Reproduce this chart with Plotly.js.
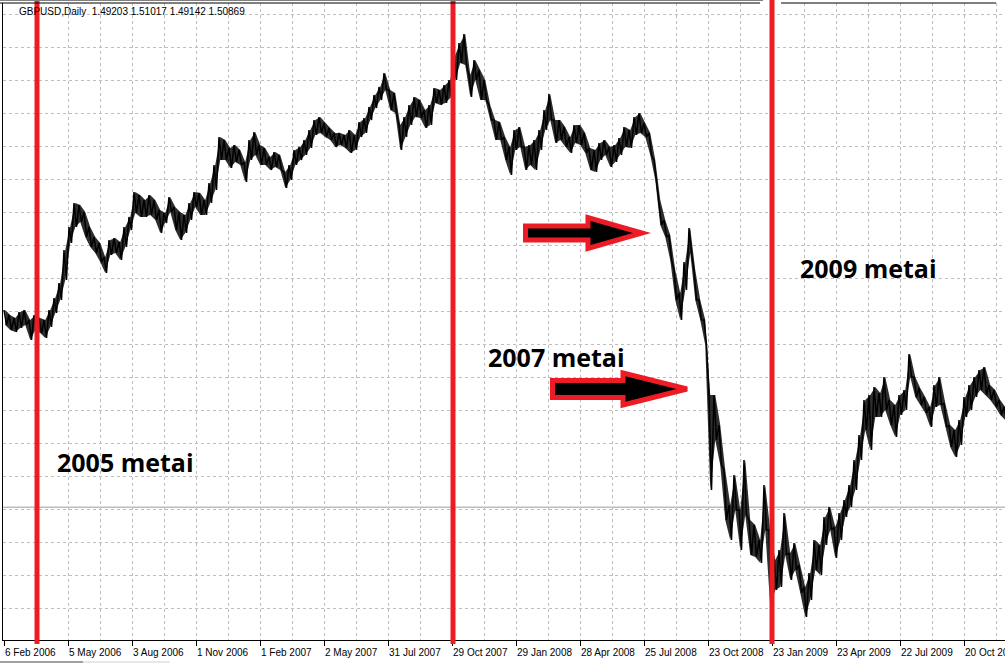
<!DOCTYPE html>
<html>
<head>
<meta charset="utf-8">
<script src="https://cdn.plot.ly/plotly-3.0.1.min.js"></script>
<style>
html,body{margin:0;padding:0;background:#fff;}
#chart{width:1005px;height:665px;}
</style>
</head>
<body>
<div id="chart"></div>
<script>
// GBPUSD daily: sampled highs / lows, one sample every 5 trading days
const sampleStep = 5;
const hi = [
1.765,1.7585,1.7546,1.7624,1.765,1.752,1.7585,1.7546,1.752,1.765,
1.7806,1.8001,1.843,1.8729,1.9041,1.9015,1.8924,1.8729,1.8599,1.8521,
1.8339,1.856,1.8586,1.8534,1.8729,1.8859,1.9184,1.9145,1.908,1.9145,
1.908,1.895,1.8911,1.9119,1.8989,1.8924,1.8885,1.9041,1.9184,1.9171,
1.908,1.9301,1.9535,1.9899,1.986,1.9756,1.9795,1.973,1.9574,1.986,
1.9964,1.9795,1.9756,1.9639,1.9704,1.9665,1.9444,1.9535,1.973,1.9769,
1.986,1.999,2.012,2.0159,2.0081,2.0016,1.9951,1.9951,1.9925,1.999,
1.9925,2.0094,2.0146,2.0289,2.0445,2.0549,2.0731,2.051,2.0471,2.0055,
2.0159,2.0315,2.0419,2.038,2.025,2.0315,2.0536,2.051,2.0575,2.064,
2.0965,2.1121,2.1238,2.0705,2.090,2.077,2.064,2.0315,2.012,2.0094,
1.9899,1.9769,1.999,2.0029,1.9769,1.9795,1.986,1.999,2.025,2.0458,
2.012,2.012,2.0029,1.9899,2.0055,2.0055,1.9951,1.9756,1.973,1.9821,
1.986,1.9769,1.9795,1.9886,2.0029,1.999,2.0159,2.0211,2.0081,1.9951,
1.960,1.908,1.882,1.8625,1.817,1.7871,1.8274,1.8716,1.817,1.778,
1.752,1.6545,1.6545,1.6155,1.557,1.5115,1.5505,1.505,1.570,1.492,
1.4855,1.466,1.5375,1.479,1.440,1.453,1.5011,1.4491,1.4621,1.4335,
1.4049,1.4231,1.466,1.4595,1.4959,1.5089,1.4829,1.5011,1.518,1.5375,
1.570,1.6025,1.648,1.6545,1.6649,1.6571,1.6779,1.648,1.6415,1.6545,
1.661,1.7078,1.6779,1.6636,1.6519,1.6389,1.6675,1.6779,1.6441,1.6155,
1.609,1.622,1.6519,1.6675,1.6779,1.687,1.6909,1.6675,1.661,1.648,
1.6389
];
const lo = [
1.7455,1.739,1.7364,1.7416,1.7455,1.726,1.739,1.7351,1.7286,1.7429,
1.7611,1.778,1.804,1.8521,1.8729,1.8794,1.8599,1.8469,1.8391,1.8274,
1.8131,1.8365,1.8391,1.830,1.8469,1.869,1.8911,1.8859,1.8859,1.8885,
1.882,1.8651,1.8781,1.8924,1.869,1.856,1.8651,1.882,1.8989,1.8885,
1.8885,1.9041,1.921,1.960,1.960,1.9496,1.9574,1.9535,1.9314,1.960,
1.9665,1.9535,1.9535,1.947,1.9509,1.947,1.9236,1.934,1.9535,1.960,
1.9665,1.9756,1.9925,1.9951,1.9899,1.986,1.9769,1.9795,1.9756,1.9691,
1.973,1.9899,1.9951,2.012,2.0276,2.038,2.051,2.025,2.0211,1.973,
1.9899,2.0055,2.0159,2.0146,2.0016,2.0055,2.0341,2.0315,2.0341,2.0406,
2.064,2.0861,2.0835,2.0419,2.064,2.038,2.038,2.012,1.986,1.986,
1.960,1.9405,1.973,1.9769,1.947,1.9535,1.947,1.973,1.999,2.012,
1.9821,1.986,1.9769,1.9691,1.9821,1.9795,1.9691,1.947,1.9444,1.960,
1.9665,1.9509,1.9574,1.9665,1.9769,1.9756,1.9925,1.9951,1.9899,1.9665,
1.934,1.8755,1.8599,1.830,1.778,1.752,1.791,1.8391,1.778,1.752,
1.7195,1.531,1.596,1.5635,1.492,1.466,1.505,1.453,1.4985,1.4465,
1.4439,1.4361,1.479,1.3789,1.401,1.4049,1.4465,1.414,1.427,1.3971,
1.3659,1.388,1.427,1.4205,1.4595,1.479,1.4426,1.466,1.4959,1.5089,
1.531,1.570,1.609,1.583,1.6259,1.6259,1.635,1.6155,1.5999,1.6285,
1.635,1.6779,1.6519,1.6415,1.6311,1.6129,1.6389,1.6415,1.6129,1.5869,
1.5739,1.5895,1.6259,1.635,1.6519,1.661,1.6545,1.648,1.6389,1.6285,
1.622
];
// date axis labels (one every 64 bars)
const tickBars = [0,64,128,192,256,320,384,448,512,576,640,704,768,832,896,960];
const tickLabels = ['6 Feb 2006','5 May 2006','3 Aug 2006','1 Nov 2006','1 Feb 2007','2 May 2007',
  '31 Jul 2007','29 Oct 2007','29 Jan 2008','28 Apr 2008','25 Jul 2008','23 Oct 2008',
  '23 Jan 2009','23 Apr 2009','22 Jul 2009','20 Oct 2009'];
// red marker lines (bar index)
const markerBars = [33, 449, 768];
// labels
const noteTexts = ['2005 metai','2007 metai','2009 metai'];
const header = 'GBPUSD,Daily  1.49203 1.51017 1.49142 1.50869';
const lastClose = 1.50869;

// build zig-zag path through highs and lows
const xs = [], ys = [], bx = [];
for (let i = 0; i < hi.length; i++) {
  bx.push(i * sampleStep + sampleStep / 4);
  xs.push(i * sampleStep); ys.push(hi[i]);
  xs.push(i * sampleStep + sampleStep / 2); ys.push(lo[i]);
}

const W = 1005, H = 665, ML = 3, MR = 0, MT = 3, MB = 25;
const PW = W - ML - MR, PH = H - MT - MB;
const px = v => (v - ML) / PW;
const py = v => (H - MB - v) / PH;

function arrow(x0, x1, xh, yc, sh, hh) {
  const p = [[x0, yc - sh], [xh, yc - sh], [xh, yc - hh], [x1, yc], [xh, yc + hh], [xh, yc + sh], [x0, yc + sh]];
  return 'M' + p.map(q => px(q[0]).toFixed(5) + ',' + py(q[1]).toFixed(5)).join(' L') + ' Z';
}

const red = '#ED1C24';
const shapes = [];
markerBars.forEach(b => shapes.push({type:'line', xref:'x', yref:'paper', x0:b, x1:b, y0:py(644), y1:py(0),
  line:{color:red, width:5}}));
shapes.push({type:'line', xref:'paper', yref:'y', x0:0, x1:1, y0:lastClose, y1:lastClose, layer:'below',
  line:{color:'#BDBDBD', width:1.5}});
shapes.push({type:'path', xref:'paper', yref:'paper', path:arrow(525.5, 642, 588, 233, 7, 15.5),
  fillcolor:'#000', line:{color:red, width:5}});
shapes.push({type:'path', xref:'paper', yref:'paper', path:arrow(552.5, 687, 623, 389, 8.5, 16),
  fillcolor:'#000', line:{color:red, width:5}});
// top frame
shapes.push({type:'line', xref:'paper', yref:'paper', x0:px(0), x1:px(760), y0:py(3), y1:py(3), line:{color:'#000', width:1}});
shapes.push({type:'line', xref:'paper', yref:'paper', x0:px(781), x1:px(996), y0:py(3), y1:py(3), line:{color:'#000', width:1}});
shapes.push({type:'line', xref:'paper', yref:'paper', x0:px(0), x1:px(763), y0:py(0.5), y1:py(0.5), line:{color:'#808080', width:1}});
shapes.push({type:'line', xref:'paper', yref:'paper', x0:px(0), x1:px(83), y0:py(662), y1:py(662), line:{color:'#404040', width:1}});
shapes.push({type:'line', xref:'paper', yref:'paper', x0:px(83), x1:px(170), y0:py(662), y1:py(662), line:{color:'#D0D0D0', width:1}});

const noteFont = {family:'Open Sans, Noto Sans, sans-serif', size:25, color:'#000', weight:'bold'};
const annotations = [
  {text:header, xref:'paper', yref:'paper', x:px(17), y:py(12), xanchor:'left', yanchor:'middle', showarrow:false,
   font:{family:'Liberation Sans, Arial, sans-serif', size:10, color:'#000'}},
  {text:'<b>' + noteTexts[0] + '</b>', xref:'paper', yref:'paper', x:px(55), y:py(462), xanchor:'left', yanchor:'middle', showarrow:false, font:noteFont},
  {text:'<b>' + noteTexts[1] + '</b>', xref:'paper', yref:'paper', x:px(486), y:py(357), xanchor:'left', yanchor:'middle', showarrow:false, font:noteFont},
  {text:'<b>' + noteTexts[2] + '</b>', xref:'paper', yref:'paper', x:px(798), y:py(268), xanchor:'left', yanchor:'middle', showarrow:false, font:noteFont}
];

const grid = '#BEBEBE';
const layout = {
  width:W, height:H,
  margin:{l:ML, r:MR, t:MT, b:MB, pad:0},
  paper_bgcolor:'#fff', plot_bgcolor:'#fff',
  showlegend:false,
  xaxis:{range:[-1, PW - 1], tickmode:'array', tickvals:tickBars, ticktext:tickLabels,
    ticks:'outside', ticklen:5, tickcolor:'#000', tickwidth:1, tickangle:0,
    ticklabelposition:'outside right', ticklabeloverflow:'allow', ticklabelstandoff:3,
    tickfont:{family:'Liberation Sans, Arial, sans-serif', size:10, color:'#000'},
    showgrid:true, gridcolor:grid, griddash:'3px,3px', gridwidth:1,
    minor:{tick0:0, dtick:32, showgrid:true, gridcolor:grid, griddash:'3px,3px', gridwidth:1, ticks:''},
    showline:true, linecolor:'#000', linewidth:1, zeroline:false, fixedrange:true},
  yaxis:{range:[1.336, 2.1641], tick0:2.1498, dtick:0.0429, showticklabels:false, ticks:'',
    showgrid:true, gridcolor:grid, griddash:'3px,3px', gridwidth:1,
    showline:true, linecolor:'#000', linewidth:1, zeroline:false, fixedrange:true},
  shapes:shapes,
  annotations:annotations
};

// daily range band (high-low) and the zig-zag price path on top
const bandTop = {type:'scatter', mode:'lines', x:bx, y:hi, line:{color:'rgba(0,0,0,0)', width:0}, hoverinfo:'skip'};
const bandLow = {type:'scatter', mode:'lines', x:bx, y:lo, fill:'tonexty', fillcolor:'rgba(0,0,0,0.82)',
  line:{color:'rgba(0,0,0,0)', width:0}, hoverinfo:'skip'};
const trace = {type:'scatter', mode:'lines', x:xs, y:ys, line:{color:'#000', width:1.5}, hoverinfo:'skip'};

Plotly.newPlot('chart', [bandTop, bandLow, trace], layout, {staticPlot:true, displayModeBar:false});
</script>
</body>
</html>
